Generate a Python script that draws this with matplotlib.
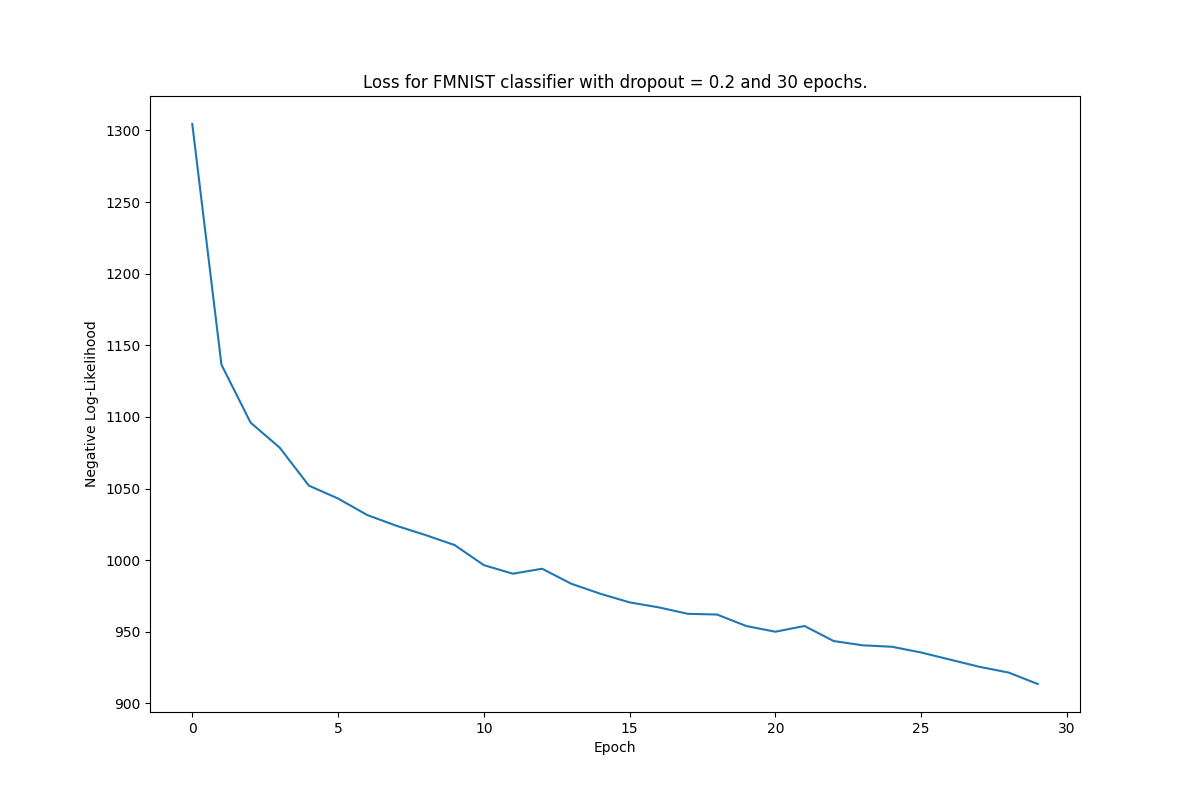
import matplotlib
matplotlib.use("Agg")
import matplotlib.pyplot as plt

epochs = list(range(30))
loss = [1304.5, 1136.5, 1096, 1078.5, 1052, 1043, 1031.5, 1024, 1017.5, 1010.5,
        996.5, 990.5, 994, 983.5, 976.5, 970.5, 967, 962.5, 962, 954,
        950, 954, 943.5, 940.5, 939.5, 935.5, 930.5, 925.5, 921.5, 913.5]

plt.figure(figsize=(12, 8), dpi=100)
plt.plot(epochs, loss)
plt.title("Loss for FMNIST classifier with dropout = 0.2 and 30 epochs.")
plt.xlabel("Epoch")
plt.ylabel("Negative Log-Likelihood")
plt.savefig("out.png")
